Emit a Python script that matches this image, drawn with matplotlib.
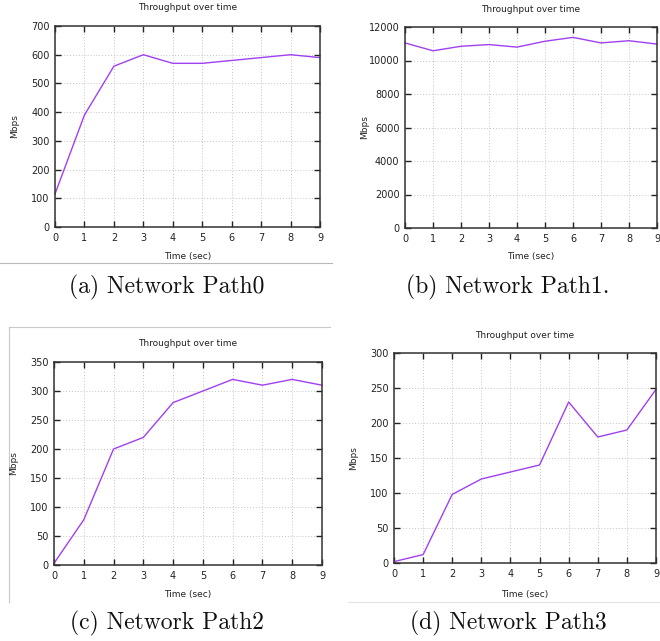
import matplotlib
matplotlib.use("Agg")
import matplotlib.pyplot as plt
from matplotlib.lines import Line2D

time_sec = [0, 1, 2, 3, 4, 5, 6, 7, 8, 9]
path0 = [115, 390, 560, 600, 570, 570, 580, 590, 600, 590]
path1 = [11050, 10580, 10850, 10950, 10800, 11150, 11380, 11050, 11180, 10980]
path2 = [3, 78, 200, 220, 280, 300, 320, 310, 320, 310]
path3 = [2, 12, 98, 120, 130, 140, 230, 180, 190, 248]

captions = ["(a) Network Path0", "(b) Network Path1.", "(c) Network Path2", "(d) Network Path3"]
ylims = [(0, 700), (0, 12000), (0, 350), (0, 300)]
ysteps = [100, 2000, 50, 50]

W, H = 660, 641
fig = plt.figure(figsize=(W / 100, H / 100), dpi=100)
fig.patch.set_facecolor("white")

LINE = "#a040f0"

def fx(x):
    return x / W

def fy(y):
    return 1 - y / H

def make_panel(box, title_y, xlabel_y, cap_y, cap_x, data, ylim, ystep, caption):
    l, t, r, b = box
    ax = fig.add_axes([fx(l), fy(b), fx(r - l), (b - t) / H])
    ax.plot(time_sec, data, color=LINE, lw=1.0, clip_on=False)
    ax.set_xlim(0, 9)
    ax.set_ylim(*ylim)
    ax.set_xticks(time_sec)
    ax.set_yticks(list(range(ylim[0], ylim[1] + 1, ystep)))
    ax.tick_params(direction="in", length=4, width=1, top=True, right=True,
                   labelsize=7, pad=4, colors="#222222")
    ax.grid(True, linestyle=(0, (1, 2)), color="#c4c4c4", lw=0.7)
    for s in ax.spines.values():
        s.set_color("#333333")
        s.set_linewidth(1.1)
    cx = (l + r) / 2
    fig.text(fx(cx), fy(title_y), "Throughput over time", ha="center", va="center",
             fontsize=6.5, color="#222222")
    fig.text(fx(cx), fy(xlabel_y), "Time (sec)", ha="center", va="center",
             fontsize=6.5, color="#222222")
    fig.text(fx(l - 40), fy((t + b) / 2), "Mbps", ha="center", va="center",
             rotation=90, fontsize=6.5, color="#222222")
    fig.text(fx(cap_x), fy(cap_y), caption, ha="center", va="center",
             fontsize=17, family="cmr10", color="#111111")
    return ax

make_panel((55, 26, 320, 227), 8, 256, 287, 167, path0, ylims[0], ysteps[0], captions[0])
make_panel((405, 27, 657, 228), 9, 257, 287, 508, path1, ylims[1], ysteps[1], captions[1])
make_panel((54, 362, 322, 565), 344, 595, 623, 167, path2, ylims[2], ysteps[2], captions[2])
make_panel((394, 353, 656, 563), 335, 594, 623, 508, path3, ylims[3], ysteps[3], captions[3])

# screenshot borders / strips
fig.add_artist(Line2D([fx(0), fx(332)], [fy(263), fy(263)], color="#b8b8b8", lw=0.8))
fig.add_artist(Line2D([fx(9), fx(9)], [fy(327), fy(602)], color="#c8c8c8", lw=0.8))
fig.add_artist(Line2D([fx(9), fx(330)], [fy(327), fy(327)], color="#c8c8c8", lw=0.8))
fig.add_artist(Line2D([fx(348), fx(660)], [fy(602), fy(602)], color="#e4e4e4", lw=0.8))

fig.savefig("out.png", dpi=100, facecolor="white")
